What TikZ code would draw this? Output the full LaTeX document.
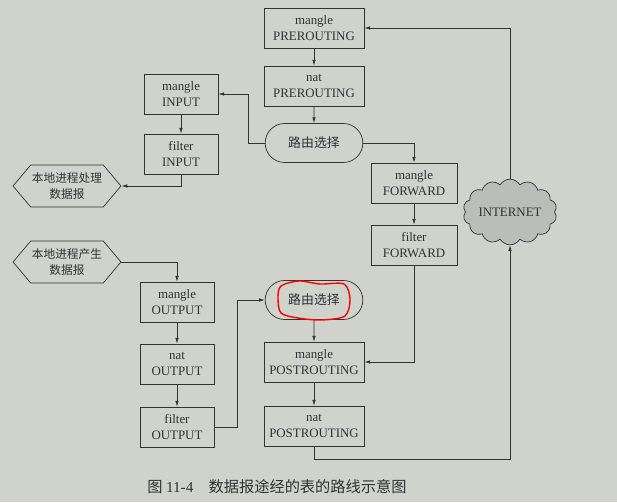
\documentclass[tikz,border=0pt]{standalone}
\usepackage{fontspec}
\setmainfont{Liberation Serif}
\newfontfamily\cjk{Noto Sans CJK SC}
\usetikzlibrary{arrows.meta, positioning, shapes.misc, shapes.symbols}
\definecolor{paper}{RGB}{208,210,204}
\definecolor{ink}{RGB}{50,50,50}

\begin{document}
\begin{tikzpicture}[x=0.03cm, y=-0.03cm,
    chain/.style={draw=ink, semithick, text=ink, align=center, minimum height=1.2cm, inner sep=1pt, font=\fontsize{11}{13.5}\selectfont},
    ptbox/.style={chain, minimum width=3cm},
    iobox/.style={chain, minimum width=2.22cm},
    fwbox/.style={chain, minimum width=2.58cm},
    routing/.style={chain, rounded rectangle, minimum width=3cm, minimum height=1.17cm, font=\cjk\fontsize{11}{13}\selectfont},
    local/.style={chain, signal, signal to=west and east, signal pointer angle=100, minimum width=3.1cm, minimum height=1.26cm, font=\cjk\fontsize{10}{13}\selectfont},
    flow/.style={draw=ink, semithick, -{Latex[length=5pt, width=3pt]}}
]
\fill[paper] (0,0) rectangle (617,502);
\useasboundingbox (0,0) rectangle (617,502);

% PREROUTING chain
\node[ptbox] (mpre) at (314,28) {mangle\\PREROUTING};
\node[ptbox] (npre) at (314,86) {nat\\PREROUTING};
\node[routing] (rin) at (314,143) {路由选择};
\draw[flow] (mpre) -- (npre);
\draw[flow] (npre) -- (rin);

% INPUT chain
\node[iobox] (min) at (181,94) {mangle\\INPUT};
\node[iobox] (fin) at (181,154) {filter\\INPUT};
\node[local] (lin) at (67,186) {本地进程处理\\数据报};
\draw[flow] (rin.west) -- ++(-16,0) |- (min.east);
\draw[flow] (min) -- (fin);
\draw[flow] (fin.south) |- (lin.east);

% FORWARD chain
\node[fwbox] (mfw) at (414,183) {mangle\\FORWARD};
\node[fwbox] (ffw) at (414,245) {filter\\FORWARD};
\draw[flow] (rin.east) -| (mfw.north);
\draw[flow] (mfw) -- (ffw);

% OUTPUT chain
\node[local] (lout) at (67,262) {本地进程产生\\数据报};
\node[iobox] (mout) at (177,302) {mangle\\OUTPUT};
\node[iobox] (nout) at (177,364) {nat\\OUTPUT};
\node[iobox] (fout) at (177,427) {filter\\OUTPUT};
\draw[flow] (lout.east) -| (mout.north);
\draw[flow] (mout) -- (nout);
\draw[flow] (nout) -- (fout);

% POSTROUTING chain
\node[routing] (rout) at (314,300) {路由选择};
\node[ptbox] (mpost) at (314,362) {mangle\\POSTROUTING};
\node[ptbox] (npost) at (314,426) {nat\\POSTROUTING};
\draw[flow] (fout.east) -- ++(23,0) |- (rout.west);
\draw[flow] (rout) -- (mpost);
\draw[flow] (mpost) -- (npost);
\draw[flow] (ffw.south) |- (mpost.east);

% Internet
\node[cloud, cloud puffs=14, cloud puff arc=120, aspect=1.6, draw=ink, semithick, fill=paper!90!black, text=ink,
    minimum width=2.6cm, minimum height=1.75cm, inner sep=0pt, font=\fontsize{11}{13}\selectfont] (net) at (510,212) {INTERNET};
\draw[flow] (npost.south) -- ++(0,13) -| (net.south);
\draw[flow] (net.north) |- (mpre.east);

% red mark
\draw[red, line width=1.2pt] plot[smooth cycle] coordinates {(281,286) (299,281) (320,284) (344,284) (350,299) (345,316) (321,320) (298,318) (281,313) (278,298)};

% caption
\node[text=ink, font=\cjk\fontsize{13}{15}\selectfont] (cap) at (277,487) {图 {\rmfamily 11-4}\quad 数据报途经的表的路线示意图};

\end{tikzpicture}
\end{document}
